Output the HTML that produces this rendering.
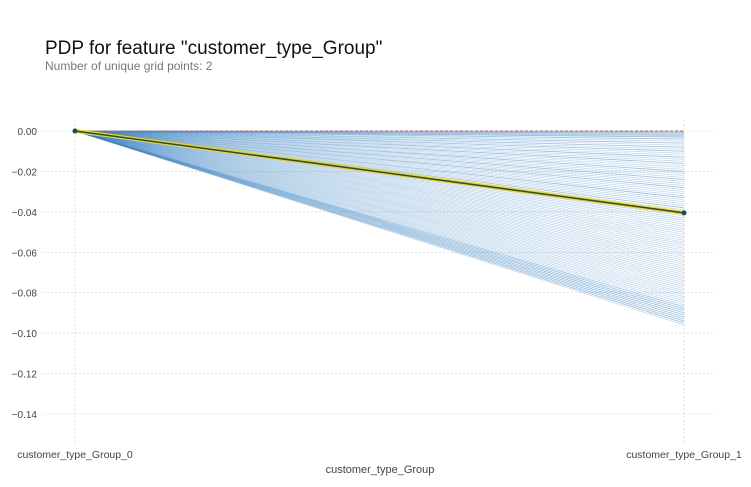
<!DOCTYPE html>
<html><head><meta charset="utf-8"><style>
body{margin:0;background:#fff;width:751px;height:482px;overflow:hidden;font-family:"Liberation Sans",sans-serif}
svg text{font-family:"Liberation Sans",sans-serif}
</style></head><body>
<svg id="c" width="751" height="482">
<text x="45" y="54" font-size="19" fill="#111">PDP for feature "customer_type_Group"</text>
<text x="45" y="70" font-size="12" fill="#777">Number of unique grid points: 2</text>
<g id="grid"></g><g id="ice"></g><g id="main"></g><g id="axes"></g>
<text x="380" y="473" font-size="11" fill="#444" text-anchor="middle">customer_type_Group</text>
</svg>
<script>
const categories=["customer_type_Group_0","customer_type_Group_1"];
const yTicks=[0,-0.02,-0.04,-0.06,-0.08,-0.10,-0.12,-0.14];
const yTickLabels=["0.00","−0.02","−0.04","−0.06","−0.08","−0.10","−0.12","−0.14"];
const pdpValues=[0,-0.0405];
const iceEnd=[0,-0.0005,-0.001,-0.0015,-0.002,-0.0025,-0.003,-0.004,-0.005,-0.006,-0.007,-0.008,-0.009,-0.010,-0.011,-0.012,-0.013,-0.014,-0.015,-0.016,-0.017,-0.018,-0.019,-0.020,-0.021,-0.022,-0.023,-0.024,-0.025,-0.026,-0.027,-0.028,-0.029,-0.030,-0.031,-0.032,-0.033,-0.034,-0.035,-0.036,-0.037,-0.038,-0.039,-0.040,-0.041,-0.042,-0.043,-0.044,-0.045,-0.046,-0.047,-0.048,-0.049,-0.050,-0.051,-0.052,-0.053,-0.054,-0.055,-0.056,-0.057,-0.058,-0.059,-0.060,-0.061,-0.062,-0.063,-0.064,-0.065,-0.066,-0.067,-0.068,-0.069,-0.070,-0.071,-0.072,-0.073,-0.074,-0.075,-0.076,-0.077,-0.078,-0.079,-0.080,-0.081,-0.082,-0.083,-0.084,-0.085,-0.086,-0.087,-0.087,-0.088,-0.088,-0.089,-0.089,-0.090,-0.090,-0.091,-0.091,-0.092,-0.092,-0.093,-0.093,-0.094,-0.094,-0.095,-0.095,-0.096,-0.0005,-0.001,-0.002,-0.003,-0.004,-0.006,-0.008,-0.010,-0.013,-0.016,-0.020,-0.024,-0.028,-0.033,-0.038];
const NS="http://www.w3.org/2000/svg";
const X0=75,X1=684,Y0=131,SC=2021.4;
const xs=i=>X0+(X1-X0)*i/(categories.length-1);
const ys=v=>Y0-v*SC;
function mk(t,a,p){const e=document.createElementNS(NS,t);for(const k in a)e.setAttribute(k,a[k]);p.appendChild(e);return e;}
const grid=document.getElementById('grid'),axes=document.getElementById('axes');
yTicks.forEach((v,i)=>{
 const l=mk('line',{x1:43,x2:713,y1:ys(v),y2:ys(v),stroke:'#ccc','stroke-width':0.6,'stroke-dasharray':'2,2'},grid);
 
 
 const t=mk('text',{x:37,y:ys(v)+4,'font-size':10,fill:'#444','text-anchor':'end'},axes);
 t.textContent=yTickLabels[i];
 
 
});
categories.forEach((c,i)=>{
 const l=mk('line',{x1:xs(i),x2:xs(i),y1:120,y2:445,stroke:'#ccc','stroke-width':0.6,'stroke-dasharray':'2,2'},grid);
 
 
 const t=mk('text',{x:xs(i),y:458,'font-size':10.5,fill:'#444','text-anchor':'middle'},axes);
 t.textContent=c;
 
 
});
const ice=document.getElementById('ice');
iceEnd.forEach(v=>{
 const l=mk('line',{x1:xs(0),y1:ys(0),x2:xs(1),y2:ys(v),stroke:'#3a86c4','stroke-opacity':0.3,'stroke-width':0.8},ice);
 
 
});
const m=document.getElementById('main');
const z=mk('line',{x1:xs(0),y1:ys(0),x2:xs(1),y2:ys(0),stroke:'#e8543f','stroke-width':1,'stroke-dasharray':'3,2'},m);


const y1=mk('line',{x1:xs(0),y1:ys(pdpValues[0]),x2:xs(1),y2:ys(pdpValues[1]),stroke:'#f5d310','stroke-width':4},m);


const p=mk('line',{x1:xs(0),y1:ys(pdpValues[0]),x2:xs(1),y2:ys(pdpValues[1]),stroke:'#1a4a5e','stroke-width':1.5},m);


pdpValues.forEach((v,i)=>{
 const c=mk('circle',{cx:xs(i),cy:ys(v),r:2.5,fill:'#1a4a5e'},m);
 
 
});
</script>
</body></html>
